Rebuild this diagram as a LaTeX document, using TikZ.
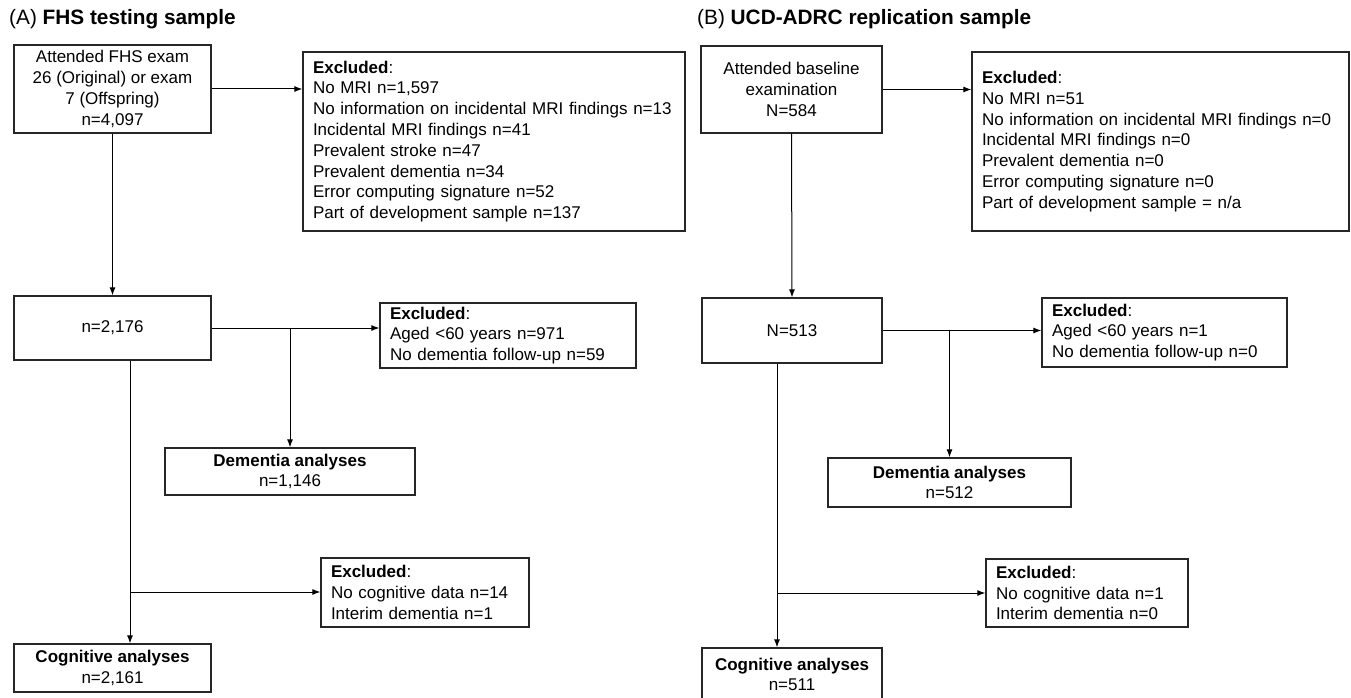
\documentclass[tikz,border=0pt]{standalone}
\usepackage{fontspec}
\setmainfont{Liberation Sans}
\usetikzlibrary{arrows.meta}
\newcommand{\flowfont}{\fontsize{17}{20.8}\selectfont}
\newcommand{\paneltitlefont}{\fontsize{20.8}{24}\selectfont}
\begin{document}
\begin{tikzpicture}[x=1pt,y=-1pt,
    box/.style={draw=black!85,line width=1.3pt,align=center,inner sep=0pt,font=\flowfont},
    exbox/.style={draw=black!85,line width=1.3pt,align=left,inner xsep=10pt,inner ysep=0pt,font=\flowfont},
    arr/.style={line width=1pt,-{Latex[length=8pt,width=6pt]}},
    paneltitle/.style={anchor=west,inner sep=0pt,font=\paneltitlefont}]
    \useasboundingbox (0,0) rectangle (1351,698);
    % (A) FHS
    \node[paneltitle] (titleA) at (9,19) {(A) \textbf{FHS testing sample}};
    \node[box,minimum width=197pt,minimum height=88pt] (startA) at (112.5,89) {Attended FHS exam\\26 (Original) or exam\\7 (Offspring)\\n=4,097};
    \node[exbox,text width=362pt,minimum height=179pt] (exclA1) at (494,141.5) {\textbf{Excluded}:\\No MRI n=1,597\\No information on incidental MRI findings n=13\\Incidental MRI findings n=41\\Prevalent stroke n=47\\Prevalent dementia n=34\\Error computing signature n=52\\Part of development sample n=137};
    \node[box,minimum width=197pt,minimum height=64pt] (nA) at (112.5,328) {n=2,176};
    \node[exbox,text width=236pt,minimum height=65pt] (exclA2) at (508,335.5) {\textbf{Excluded}:\\Aged <60 years n=971\\No dementia follow-up n=59};
    \node[box,minimum width=250pt,minimum height=47pt] (dementA) at (290,471.5) {\textbf{Dementia analyses}\\n=1,146};
    \node[exbox,text width=188pt,minimum height=69pt] (exclA3) at (425,592.5) {\textbf{Excluded}:\\No cognitive data n=14\\Interim dementia n=1};
    \node[box,minimum width=197pt,minimum height=48pt] (cogA) at (112.5,668) {\textbf{Cognitive analyses}\\n=2,161};
    \coordinate (splitA) at (130,592);
    \draw[arr] (startA.east) -- (exclA1.west |- startA.east);
    \draw[arr] (startA.south) -- (nA.north);
    \draw[arr] (nA.east) -- (exclA2.west |- nA.east);
    \draw[arr] (dementA.north |- nA.east) -- (dementA.north);
    \draw[arr] (nA.south -| splitA) -- (cogA.north -| splitA);
    \draw[arr] (splitA) -- (exclA3.west |- splitA);
    % (B) UCD-ADRC
    \node[paneltitle] (titleB) at (697,19) {(B) \textbf{UCD-ADRC replication sample}};
    \node[box,minimum width=181pt,minimum height=87pt] (startB) at (791.5,89.5) {Attended baseline\\examination\\N=584};
    \node[exbox,text width=357pt,minimum height=179pt] (exclB1) at (1160.5,141.5) {\textbf{Excluded}:\\No MRI n=51\\No information on incidental MRI findings n=0\\Incidental MRI findings n=0\\Prevalent dementia n=0\\Error computing signature n=0\\Part of development sample = n/a};
    \node[box,minimum width=180pt,minimum height=65pt] (nB) at (792,330.5) {N=513};
    \node[exbox,text width=225pt,minimum height=69pt] (exclB2) at (1164.5,332.5) {\textbf{Excluded}:\\Aged <60 years n=1\\No dementia follow-up n=0};
    \node[box,minimum width=243pt,minimum height=49pt] (dementB) at (949.5,482.5) {\textbf{Dementia analyses}\\n=512};
    \node[exbox,text width=182pt,minimum height=68pt] (exclB3) at (1087,593) {\textbf{Excluded}:\\No cognitive data n=1\\Interim dementia n=0};
    \node[box,minimum width=180pt,minimum height=53pt] (cogB) at (792,674.5) {\textbf{Cognitive analyses}\\n=511};
    \coordinate (splitB) at (777,593);
    \draw[arr] (startB.east) -- (exclB1.west |- startB.east);
    \draw[arr] (startB.south) -- (nB.north);
    \draw[arr] (nB.east) -- (exclB2.west |- nB.east);
    \draw[arr] (dementB.north |- nB.east) -- (dementB.north);
    \draw[arr] (nB.south -| splitB) -- (cogB.north -| splitB);
    \draw[arr] (splitB) -- (exclB3.west |- splitB);
\end{tikzpicture}
\end{document}
